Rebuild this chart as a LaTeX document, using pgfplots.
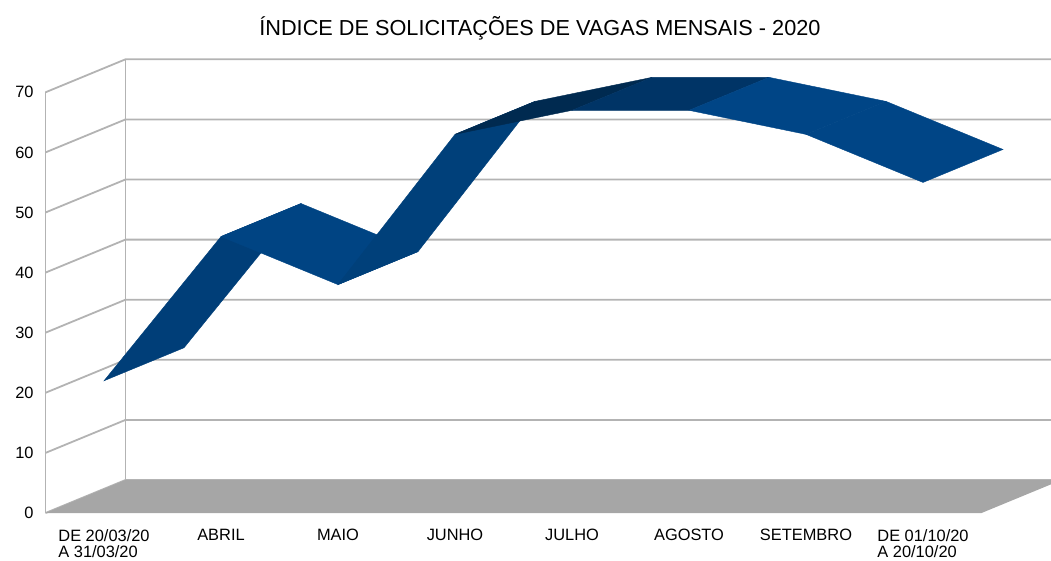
\documentclass[border=0pt]{standalone}
\usepackage{pgfplots}
\pgfplotsset{compat=1.18}
\usepackage{fontspec}
\setmainfont{Liberation Sans}
\definecolor{gridc}{HTML}{B3B3B3}
\definecolor{floorc}{HTML}{A6A6A6}
\definecolor{sA}{HTML}{003E78}
\definecolor{sB}{HTML}{004483}
\definecolor{sC}{HTML}{00407A}
\definecolor{sD}{HTML}{002A50}
\definecolor{sE}{HTML}{003466}
\definecolor{sF}{HTML}{004586}
\tikzset{catlab/.style={anchor=north, inner sep=0pt, yshift=-8pt, align=left, font=\fontsize{8.2}{8.3}\selectfont}}
\begin{document}
\begin{tikzpicture}
\begin{axis}[
  x={(58.5pt,0pt)}, y={(40pt,16.5pt)}, z={(0pt,3.005pt)},
  xmin=-0.5, xmax=7.5, ymin=0, ymax=1, zmin=0, zmax=70,
  hide axis, clip=false,
]
% walls: grid lines on left and back walls
\pgfplotsinvokeforeach{0,10,20,30,40,50,60,70}{
  \draw[gridc, line width=0.9pt] (axis cs:-0.5,0,#1) -- (axis cs:-0.5,1,#1) -- (axis cs:7.6,1,#1);
}
\draw[gridc, line width=0.9pt] (axis cs:-0.5,0,0) -- (axis cs:-0.5,0,70);
\draw[gridc, line width=0.9pt] (axis cs:-0.5,1,0) -- (axis cs:-0.5,1,70);
% floor
\addplot3[fill=floorc, draw=none] coordinates {(-0.5,0,0) (7.5,0,0) (7.5,1,0) (-0.5,1,0)} -- cycle;
% ribbon (values: 22, 46, 38, 63, 67, 67, 63, 55)
\addplot3[fill=sA, draw=sA, line width=0.2pt] coordinates {(0,0,22) (1,0,46) (1,1,46) (0,1,22)} -- cycle;
\addplot3[fill=sB, draw=sB, line width=0.2pt] coordinates {(1,0,46) (2,0,38) (2,1,38) (1,1,46)} -- cycle;
\addplot3[fill=sC, draw=sC, line width=0.2pt] coordinates {(2,0,38) (3,0,63) (3,1,63) (2,1,38)} -- cycle;
\addplot3[fill=sD, draw=sD, line width=0.2pt] coordinates {(3,0,63) (4,0,67) (4,1,67) (3,1,63)} -- cycle;
\addplot3[fill=sE, draw=sE, line width=0.2pt] coordinates {(4,0,67) (5,0,67) (5,1,67) (4,1,67)} -- cycle;
\addplot3[fill=sF, draw=sF, line width=0.2pt] coordinates {(5,0,67) (6,0,63) (6,1,63) (5,1,67)} -- cycle;
\addplot3[fill=sF, draw=sF, line width=0.2pt] coordinates {(6,0,63) (7,0,55) (7,1,55) (6,1,63)} -- cycle;
% value labels
\pgfplotsinvokeforeach{0,10,20,30,40,50,60,70}{
  \node[anchor=east, inner sep=0pt, xshift=-5.75pt, font=\fontsize{8.2}{9}\selectfont] at (axis cs:-0.5,0,#1) {#1};
}
% category labels
\node[catlab] at (axis cs:0,0,0) {DE 20/03/20\\A 31/03/20};
\node[catlab] at (axis cs:1,0,0) {ABRIL};
\node[catlab] at (axis cs:2,0,0) {MAIO};
\node[catlab] at (axis cs:3,0,0) {JUNHO};
\node[catlab] at (axis cs:4,0,0) {JULHO};
\node[catlab] at (axis cs:5,0,0) {AGOSTO};
\node[catlab] at (axis cs:6,0,0) {SETEMBRO};
\node[catlab] at (axis cs:7,0,0) {DE 01/10/20\\A 20/10/20};
% title
\node[anchor=base, inner sep=0pt, font=\fontsize{10.85}{13}\selectfont] at (axis cs:3.726,0,79.53) {ÍNDICE DE SOLICITAÇÕES DE VAGAS MENSAIS - 2020};
% picture frame
\coordinate (BL) at (axis cs:-0.8889,0,-7.820);
\coordinate (TR) at (axis cs:8.0940,0,85.358);
\end{axis}
\pgfresetboundingbox
\useasboundingbox (BL) rectangle (TR);
\end{tikzpicture}
\end{document}
